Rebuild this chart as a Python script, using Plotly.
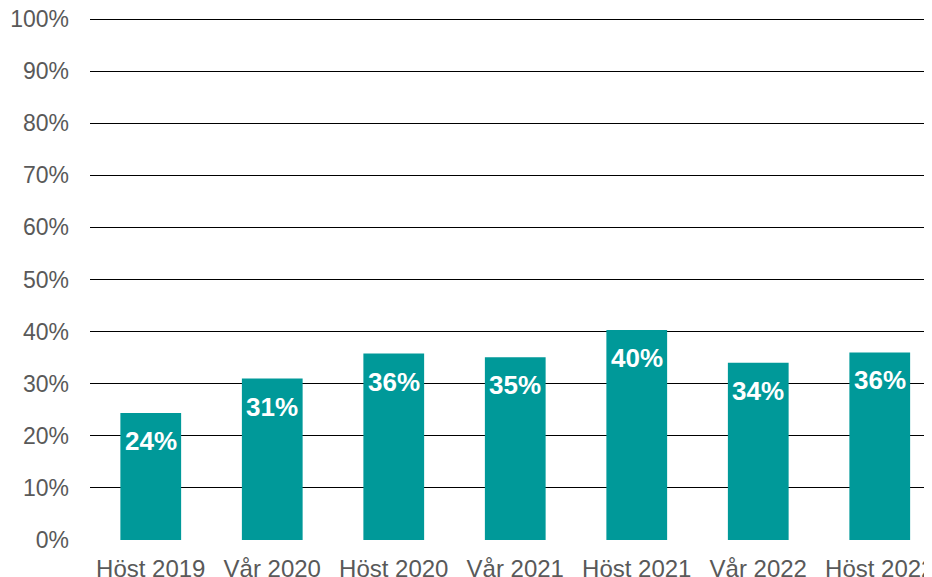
import plotly.graph_objects as go

categories = ["Höst 2019", "Vår 2020", "Höst 2020", "Vår 2021", "Höst 2021", "Vår 2022", "Höst 2022"]
values = [24.4, 31.0, 35.8, 35.1, 40.3, 34.0, 36.0]
labels = ["24%", "31%", "36%", "35%", "40%", "34%", "36%"]
y_ticks = list(range(0, 101, 10))
y_tick_labels = [f"{t}%" for t in y_ticks]

bar_color = "#009999"
gray = "#595959"
font_family = "Liberation Sans, Arial, sans-serif"

fig = go.Figure()
fig.add_trace(go.Bar(
    x=categories, y=values, marker=dict(color=bar_color, line=dict(width=0)),
    width=0.5, hoverinfo="skip",
))

for c, v, t in zip(categories, values, labels):
    fig.add_annotation(x=c, y=v, text=f"<b>{t}</b>", showarrow=False,
                       yanchor="middle", yshift=-28,
                       font=dict(family=font_family, size=26, color="white"))

fig.update_layout(
    width=932, height=569,
    margin=dict(l=82, r=8, t=10, b=37, autoexpand=False),
    plot_bgcolor="white", paper_bgcolor="white",
    showlegend=False,
    font=dict(family=font_family, color=gray, size=22),
    xaxis=dict(range=[-0.5, 6.43], showgrid=False, showline=False, zeroline=False,
               ticks="", automargin=False, ticklabelstandoff=12,
               ticklabeloverflow="allow",
               tickfont=dict(size=24, color=gray)),
    yaxis=dict(range=[0, 100.2], tickvals=y_ticks, ticktext=y_tick_labels,
               showgrid=True, gridcolor="black", gridwidth=1.3,
               zeroline=False, showline=False, ticks="", automargin=False,
               ticklabelstandoff=20, ticklabeloverflow="allow",
               tickfont=dict(size=23, color=gray)),
)

fig.write_html("out.html")
